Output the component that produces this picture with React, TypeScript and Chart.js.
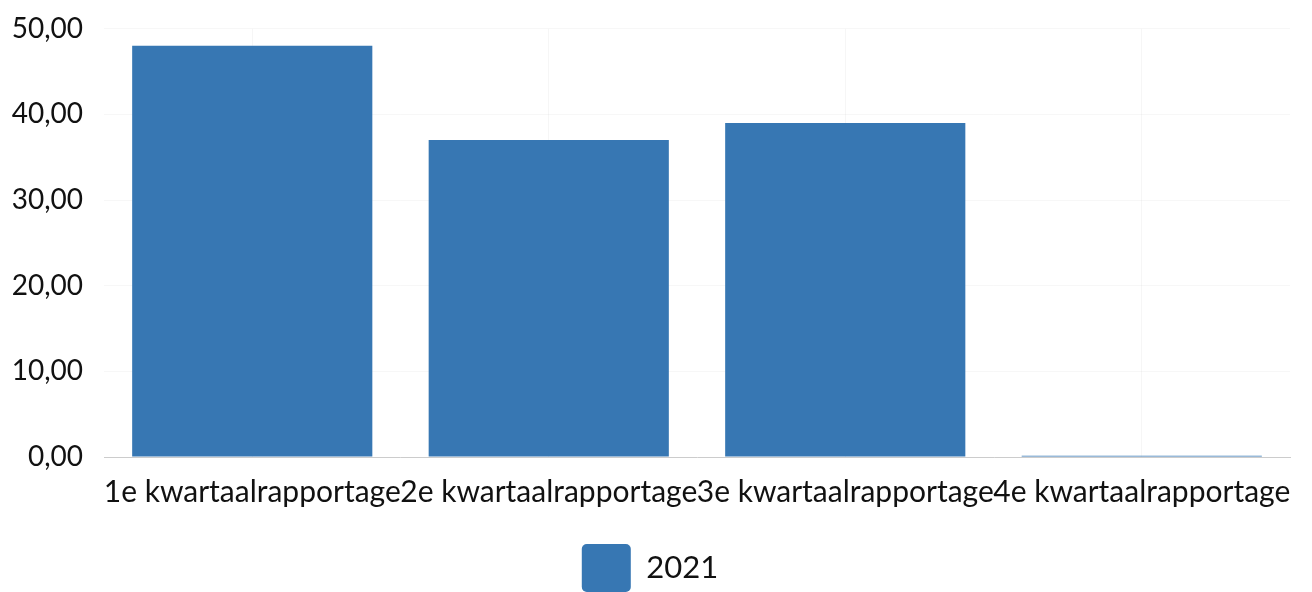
import React, { useEffect, useRef } from "react";
import { Chart, registerables } from "chart.js";

Chart.register(...registerables);

const categories = ["1e kwartaalrapportage", "2e kwartaalrapportage", "3e kwartaalrapportage", "4e kwartaalrapportage"];
const seriesLabel = "2021";
const values2021 = [48, 37, 39, 0.15];
const yTicks = [0, 10, 20, 30, 40, 50];

export default function App() {
  const ref = useRef<HTMLCanvasElement | null>(null);
  useEffect(() => {
    document.body.style.margin = "0";
    const ctx = ref.current!;
    const chart = new Chart(ctx, {
      type: "bar",
      data: {
        labels: categories,
        datasets: [
          {
            label: seriesLabel,
            data: values2021,
            backgroundColor: "#3777b3",
            borderWidth: 0,
            barPercentage: 0.9,
            categoryPercentage: 0.9,
          },
        ],
      },
      options: {
        animation: false,
        responsive: false,
        maintainAspectRatio: false,
        layout: { padding: { top: 0, right: 22, left: 10, bottom: 0 } },
        plugins: {
          tooltip: { enabled: false },
          legend: {
            position: "bottom",
            labels: {
              font: { family: "Lato", size: 31 },
              color: "#111",
              boxWidth: 49,
              boxHeight: 48,
              useBorderRadius: true,
              borderRadius: 5,
              padding: 34,
            },
          },
        },
        scales: {
          x: {
            afterFit: (scale: any) => {
              scale.paddingLeft = 0;
              scale.paddingRight = 0;
            },
            grid: {
              color: "rgba(0,0,0,0.035)",
              drawTicks: true,
              tickLength: 17,
              tickColor: "rgba(0,0,0,0)",
              offset: false,
            },
            border: { color: "#cccccc" },
            ticks: {
              font: { family: "Lato", size: 30 },
              color: "#111",
              maxRotation: 0,
              autoSkip: false,
              padding: 0,
            },
          },
          y: {
            min: 0,
            max: 50,
            afterBuildTicks: (axis: any) => {
              axis.ticks = yTicks.map((v) => ({ value: v }));
            },
            afterFit: (scale: any) => {
              scale.width = 94;
            },
            grid: { color: "rgba(0,0,0,0.03)", drawTicks: false },
            border: { display: false },
            ticks: {
              font: { family: "Lato", size: 28, lineHeight: 0.55 },
              color: "#111",
              padding: 21,
              callback: (v: any) => Number(v).toFixed(2).replace(".", ","),
            },
          },
        },
      },
    });
    return () => chart.destroy();
  }, []);
  return (
    <div style={{ width: 1312, height: 592, overflow: "hidden" }}>
      <canvas ref={ref} width={1312} height={602} style={{ display: "block" }} />
    </div>
  );
}
